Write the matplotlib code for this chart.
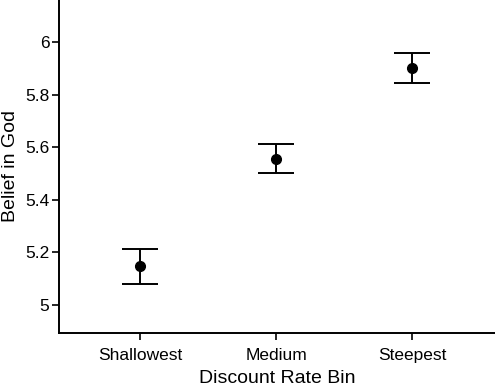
import matplotlib.pyplot as plt

plt.rcParams['font.family'] = ['Liberation Sans', 'DejaVu Sans']

# Données
bins = ["Shallowest", "Medium", "Steepest"]
moyennes = [5.148, 5.555, 5.902]
bas = [5.080, 5.500, 5.845]
haut = [5.213, 5.610, 5.957]
yticks = [5, 5.2, 5.4, 5.6, 5.8, 6]

x = [1, 2, 3]
err_bas = [m - b for m, b in zip(moyennes, bas)]
err_haut = [h - m for m, h in zip(moyennes, haut)]

fig = plt.figure(figsize=(4.95, 3.87), dpi=100)
ax = fig.add_axes([59 / 495, (387 - 332.7) / 387, 1 - 59 / 495, 332.7 / 387])

ax.errorbar(x, moyennes, yerr=[err_bas, err_haut], fmt="o", color="black",
            markersize=7, elinewidth=1.4, capsize=13, capthick=1.4)

ax.set_xlim(0.4, 3.61)
ax.set_ylim(4.893, 6.16)
ax.set_xticks(x)
ax.set_xticklabels(bins)
ax.set_yticks(yticks)
ax.set_yticklabels(["5", "5.2", "5.4", "5.6", "5.8", "6"])

for s in ["top", "right"]:
    ax.spines[s].set_visible(False)
for s in ["left", "bottom"]:
    ax.spines[s].set_linewidth(1.4)

ax.tick_params(axis="both", length=5, width=1.2, labelsize=12.5, colors="black")
ax.tick_params(axis="y", pad=2)
ax.tick_params(axis="x", pad=6)
ax.set_xlabel("Discount Rate Bin", fontsize=14, labelpad=5)
ax.set_ylabel("Belief in God", fontsize=14, labelpad=4)

fig.savefig("out.png", dpi=100)
